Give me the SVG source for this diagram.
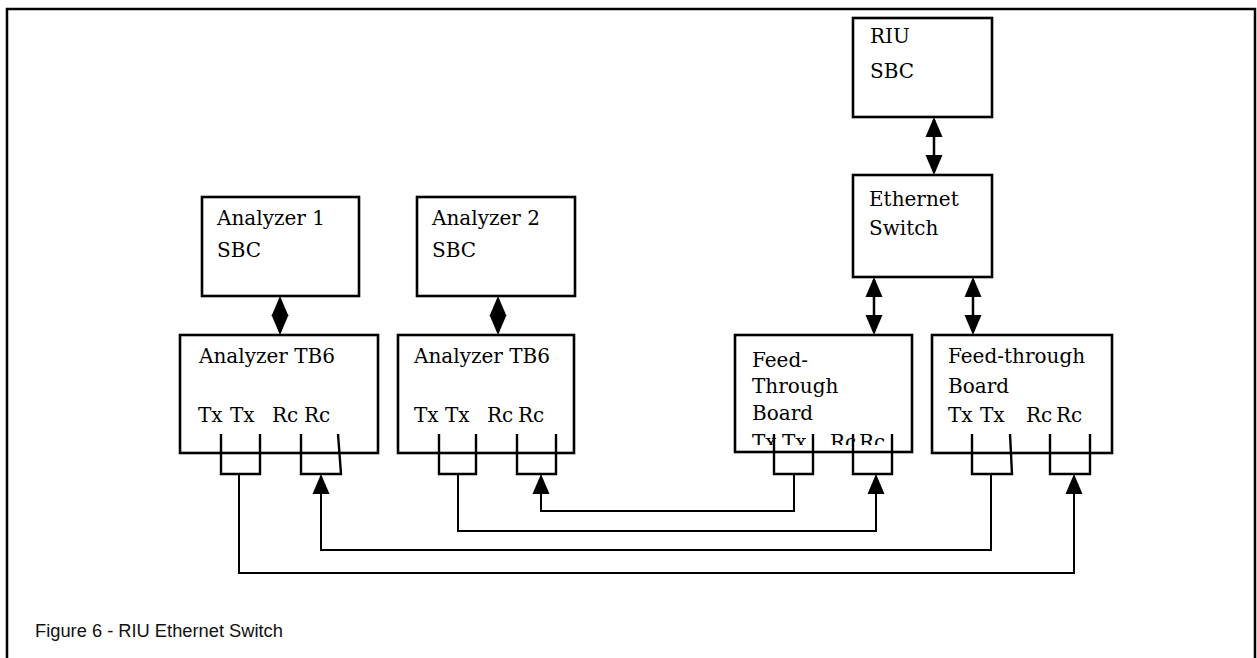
<svg xmlns="http://www.w3.org/2000/svg" width="1257" height="658" viewBox="0 0 1257 658">
<style>
.box{fill:#fff;stroke:#000;stroke-width:2.6}
.lbl{font-family:"DejaVu Serif","Liberation Serif",serif;font-size:20px;fill:#000}
.port{fill:none;stroke:#000;stroke-width:2.4}
.conn{fill:none;stroke:#000;stroke-width:2.5}
.loop{fill:none;stroke:#000;stroke-width:2}
.cap{font-family:"Liberation Sans",Arial,sans-serif;font-size:18.3px;fill:#111}
</style>
<defs>
<marker id="ah" markerUnits="userSpaceOnUse" markerWidth="20" markerHeight="18" refX="17" refY="8.5" orient="auto-start-reverse" viewBox="0 0 20 17">
<path d="M0,0 L20,8.5 L0,17 Z" fill="#000"/>
</marker>
<clipPath id="ftclip"><rect x="735" y="400" width="177" height="45"/></clipPath>
</defs>
<rect width="1257" height="658" fill="#fff"/>
<path d="M7,662 V9 H1255 V662" fill="none" stroke="#000" stroke-width="2.5"/>

<g id="riu-sbc">
<rect class="box" x="853" y="18" width="139" height="99"/>
<text class="lbl" x="870" y="43">RIU</text>
<text class="lbl" x="870" y="78">SBC</text>
</g>
<g id="ethernet-switch">
<rect class="box" x="853" y="175" width="139" height="102"/>
<text class="lbl" x="869" y="206">Ethernet</text>
<text class="lbl" x="869" y="235">Switch</text>
</g>
<g id="analyzer1-sbc">
<rect class="box" x="202" y="197" width="157" height="99"/>
<text class="lbl" x="217" y="225">Analyzer 1</text>
<text class="lbl" x="217" y="257">SBC</text>
</g>
<g id="analyzer2-sbc">
<rect class="box" x="417" y="197" width="158" height="99"/>
<text class="lbl" x="432" y="225">Analyzer 2</text>
<text class="lbl" x="432" y="257">SBC</text>
</g>
<g id="analyzer-tb6-1">
<rect class="box" x="180" y="335" width="198" height="118"/>
<text class="lbl" x="199" y="363">Analyzer TB6</text>
<text class="lbl" y="422"><tspan x="198">Tx</tspan> <tspan x="230">Tx</tspan> <tspan x="272">Rc</tspan> <tspan x="304">Rc</tspan></text>
<path class="port" d="M221,434 V474 H260 V434 M301,434 V474 H341 L338,434"/>
</g>
<g id="analyzer-tb6-2">
<rect class="box" x="398" y="335" width="176" height="118"/>
<text class="lbl" x="414" y="363">Analyzer TB6</text>
<text class="lbl" y="422"><tspan x="414">Tx</tspan> <tspan x="445">Tx</tspan> <tspan x="487">Rc</tspan> <tspan x="518">Rc</tspan></text>
<path class="port" d="M439,434 V474 H476 V434 M517,434 V474 H556 V434"/>
</g>
<g id="feed-through-1">
<rect class="box" x="735" y="335" width="177" height="117"/>
<text class="lbl" x="752" y="367">Feed-</text>
<text class="lbl" x="752" y="393">Through</text>
<text class="lbl" x="752" y="420">Board</text>
<text class="lbl" y="449" clip-path="url(#ftclip)"><tspan x="752">Tx</tspan> <tspan x="782">Tx</tspan> <tspan x="830">Rc</tspan> <tspan x="859">Rc</tspan></text>
<path class="port" d="M774,434 V474 H813 V434 M853,434 V474 H892 V434"/>
</g>
<g id="feed-through-2">
<rect class="box" x="932" y="335" width="180" height="118"/>
<text class="lbl" x="948" y="363">Feed-through</text>
<text class="lbl" x="948" y="393">Board</text>
<text class="lbl" y="422"><tspan x="948">Tx</tspan> <tspan x="980">Tx</tspan> <tspan x="1026">Rc</tspan> <tspan x="1056">Rc</tspan></text>
<path class="port" d="M972,434 V474 H1012 L1010,434 M1050,434 V474 H1090 V434"/>
</g>

<g id="connectors">
<path class="conn" d="M934,120 V172" marker-start="url(#ah)" marker-end="url(#ah)"/>
<path class="conn" d="M874,280 V332" marker-start="url(#ah)" marker-end="url(#ah)"/>
<path class="conn" d="M973,280 V332" marker-start="url(#ah)" marker-end="url(#ah)"/>
<path class="conn" d="M280,299 V332" marker-start="url(#ah)" marker-end="url(#ah)"/>
<path class="conn" d="M498,299 V332" marker-start="url(#ah)" marker-end="url(#ah)"/>
<path class="loop" d="M239,474 V573 H1074 V477" marker-end="url(#ah)"/>
<path class="loop" d="M991,474 V550 H321 V477" marker-end="url(#ah)"/>
<path class="loop" d="M458,474 V531 H876 V477" marker-end="url(#ah)"/>
<path class="loop" d="M794,474 V511 H541 V477" marker-end="url(#ah)"/>
</g>

<text class="cap" x="35" y="637">Figure 6 - RIU Ethernet Switch</text>
</svg>
